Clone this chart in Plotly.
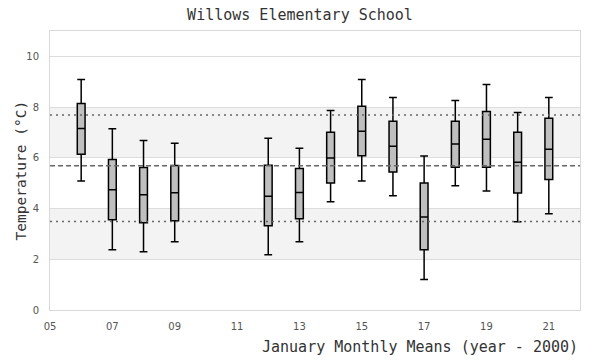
import plotly.graph_objects as go

years = [6, 7, 8, 9, 12, 13, 14, 15, 16, 17, 18, 19, 20, 21]
lower = [5.09, 2.38, 2.30, 2.69, 2.18, 2.69, 4.27, 5.09, 4.50, 1.20, 4.90, 4.69, 3.48, 3.79]
q1 = [6.14, 3.56, 3.44, 3.52, 3.32, 3.60, 5.01, 6.08, 5.44, 2.38, 5.63, 5.63, 4.61, 5.15]
median = [7.16, 4.74, 4.54, 4.62, 4.48, 4.63, 5.99, 7.05, 6.46, 3.67, 6.54, 6.73, 5.83, 6.34]
q3 = [8.14, 5.93, 5.62, 5.70, 5.71, 5.58, 7.01, 8.03, 7.44, 5.01, 7.44, 7.83, 7.01, 7.56]
upper = [9.09, 7.15, 6.68, 6.57, 6.77, 6.38, 7.87, 9.09, 8.38, 6.07, 8.26, 8.89, 7.79, 8.38]

mean_line = 5.69
upper_ref = 7.69
lower_ref = 3.49
bands = [(2, 4), (6, 8)]

x_tickvals = [5, 7, 9, 11, 13, 15, 17, 19, 21]
x_ticktext = ["05", "07", "09", "11", "13", "15", "17", "19", "21"]
y_tickvals = [0, 2, 4, 6, 8, 10]

MONO = "DejaVu Sans Mono, monospace"
SANS = "DejaVu Sans, Verdana, sans-serif"

fig = go.Figure()
fig.add_trace(go.Box(
    x=years, q1=q1, median=median, q3=q3,
    lowerfence=lower, upperfence=upper,
    width=0.25, whiskerwidth=1,
    fillcolor="#bfbfbf",
    line=dict(color="black", width=1.5),
    boxpoints=False, showlegend=False,
))

shapes = []
for b0, b1 in bands:
    shapes.append(dict(type="rect", xref="paper", yref="y", x0=0, x1=1, y0=b0, y1=b1,
                       fillcolor="#f3f3f3", line=dict(width=0), layer="below"))
for val, dash in [(mean_line, "5px,3px"), (upper_ref, "2px,4px"), (lower_ref, "2px,4px")]:
    shapes.append(dict(type="line", xref="paper", yref="y", x0=0, x1=1, y0=val, y1=val,
                       line=dict(color="#666666", width=1.5, dash=dash), layer="above"))

fig.update_layout(
    width=600, height=360,
    margin=dict(l=50, r=20, t=31, b=50),
    paper_bgcolor="white", plot_bgcolor="white",
    title=dict(text="Willows Elementary School", x=0.5, xanchor="center",
               y=1 - 15/360, yanchor="middle",
               font=dict(family=MONO, size=15, color="#333333")),
    shapes=shapes,
    xaxis=dict(range=[5, 22], tickvals=x_tickvals, ticktext=x_ticktext,
               showgrid=False, zeroline=False, showline=True, mirror=True,
               linecolor="#d9d9d9", linewidth=1, ticks="",
               ticklabelstandoff=7,
               tickfont=dict(family=SANS, size=10, color="#555555")),
    yaxis=dict(range=[0, 11], tickvals=y_tickvals, showgrid=True, gridcolor="#dddddd",
               gridwidth=1, zeroline=False, showline=True, mirror=True,
               linecolor="#d9d9d9", linewidth=1, ticks="",
               ticklabelstandoff=8,
               tickfont=dict(family=SANS, size=10, color="#555555")),
    annotations=[
        dict(text="January Monthly Means (year - 2000)", xref="paper", yref="paper",
             x=1, xanchor="right", y=-(347 - 310) / 279, yanchor="middle", showarrow=False,
             font=dict(family=MONO, size=15, color="#333333")),
        dict(text="Temperature (°C)", xref="paper", yref="paper", textangle=-90,
             x=(20 - 50) / 530, xanchor="center", y=0.5, yanchor="middle", showarrow=False,
             font=dict(family=MONO, size=14.5, color="#333333")),
    ],
)

fig.write_html("out.html", post_script="document.body.style.margin='0';",
               config={"displayModeBar": False})
